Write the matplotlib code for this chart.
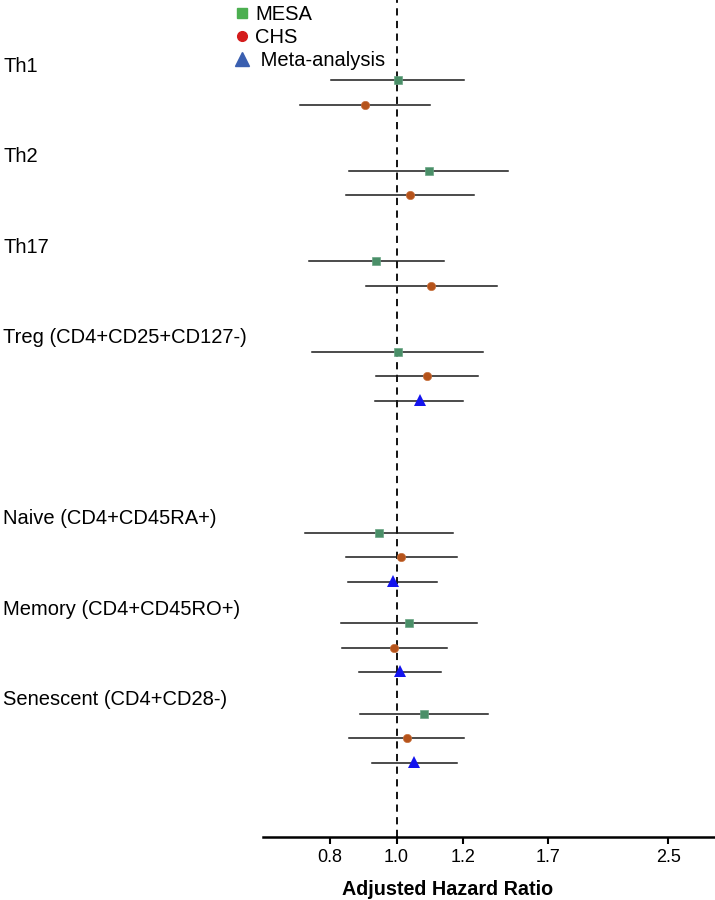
import numpy as np
import matplotlib
matplotlib.use("Agg")
import matplotlib.pyplot as plt
from matplotlib.lines import Line2D
from matplotlib import transforms

plt.rcParams['font.family'] = ['Liberation Sans', 'DejaVu Sans']

# ---------------- data ----------------
groups = ["Th1", "Th2", "Th17", "Treg (CD4+CD25+CD127-)",
          "Naive (CD4+CD45RA+)", "Memory (CD4+CD45RO+)", "Senescent (CD4+CD28-)"]
group_slots = [0, 1, 2, 3, 5, 6, 7]

mesa_hr = [1.005, 1.097, 0.939, 1.004, 0.947, 1.038, 1.081]
mesa_lo = [0.803, 0.858, 0.738, 0.748, 0.726, 0.835, 0.890]
mesa_hi = [1.207, 1.465, 1.143, 1.318, 1.169, 1.282, 1.343]

chs_hr = [0.905, 1.040, 1.103, 1.092, 1.013, 0.993, 1.030]
chs_lo = [0.710, 0.850, 0.908, 0.939, 0.849, 0.838, 0.858]
chs_hi = [1.100, 1.263, 1.398, 1.288, 1.180, 1.150, 1.203]

# meta-analysis only for the last four groups (None = not shown)
meta_hr = [None, None, None, 1.069, 0.990, 1.010, 1.052]
meta_lo = [None, None, None, 0.937, 0.856, 0.888, 0.926]
meta_hi = [None, None, None, 1.200, 1.122, 1.133, 1.181]

tick_vals = [0.8, 1.0, 1.2, 1.7, 2.5]
tick_labels = ["0.8", "1.0", "1.2", "1.7", "2.5"]
tick_pos = [-1.0, 0.0, 1.0, 2.273, 4.072]

legend_labels = ["MESA", "CHS", " Meta-analysis"]

# ---------------- custom axis scale ----------------
V = np.array(tick_vals)
P = np.array(tick_pos)
s_lo = (P[1] - P[0]) / (V[1] - V[0])
s_hi = (P[-1] - P[-2]) / (V[-1] - V[-2])

def fwd(x):
    x = np.asarray(x, dtype=float)
    y = np.interp(x, V, P)
    y = np.where(x < V[0], P[0] + (x - V[0]) * s_lo, y)
    y = np.where(x > V[-1], P[-1] + (x - V[-1]) * s_hi, y)
    return y

def inv(y):
    y = np.asarray(y, dtype=float)
    x = np.interp(y, P, V)
    x = np.where(y < P[0], V[0] + (y - P[0]) / s_lo, x)
    x = np.where(y > P[-1], V[-1] + (y - P[-1]) / s_hi, x)
    return x

W, H = 715, 900
fig = plt.figure(figsize=(W / 100, H / 100), dpi=100)
ax = fig.add_axes([263 / W, 63 / H, 1 - 263 / W, 1 - 63 / H])
ax.set_xscale('function', functions=(fwd, inv))

ROW = 1.0
GROUP = 3.664
top_px, first_px, row_px = 0.0, 80.0, 24.7
bottom_px = 837.0
ax.set_ylim((bottom_px - first_px) / row_px, (top_px - first_px) / row_px)
ax.set_xlim(inv(-2.0), inv(4.77))

mesa_c = '#4a8f68'
chs_c = '#b5531b'
meta_c = '#1414ee'
line_c = '#1a1a1a'

trans = transforms.blended_transform_factory(fig.transFigure, ax.transData)
for i, slot in enumerate(group_slots):
    y0 = slot * GROUP
    # MESA
    ax.plot([mesa_lo[i], mesa_hi[i]], [y0, y0], color=line_c, lw=1.1, zorder=2)
    ax.plot(mesa_hr[i], y0, marker='s', ms=6.0, color=mesa_c,
            markeredgecolor='#6aa585', markeredgewidth=0.5, zorder=3)
    # CHS
    y1 = y0 + ROW
    ax.plot([chs_lo[i], chs_hi[i]], [y1, y1], color=line_c, lw=1.1, zorder=2)
    ax.plot(chs_hr[i], y1, marker='o', ms=6.0, color=chs_c,
            markeredgecolor='#c9733f', markeredgewidth=0.5, zorder=3)
    # Meta
    if meta_hr[i] is not None:
        y2 = y0 + 2 * ROW
        ax.plot([meta_lo[i], meta_hi[i]], [y2, y2], color=line_c, lw=1.1, zorder=2)
        ax.plot(meta_hr[i], y2 - 0.05, marker='^', ms=9, color=meta_c,
                markeredgewidth=0, zorder=3)
    # group label
    ax.text(3 / W, y0 - 0.55, groups[i], transform=trans, ha='left', va='center',
            fontsize=14.5, color='black', clip_on=False)

ax.axvline(1.0, color='black', lw=1.3, dashes=(4, 3), zorder=1)

for sp in ['top', 'right', 'left']:
    ax.spines[sp].set_visible(False)
ax.spines['bottom'].set_linewidth(1.8)
ax.set_yticks([])
ax.set_xticks(tick_vals)
ax.set_xticklabels(tick_labels, fontsize=13)
ax.xaxis.set_minor_locator(matplotlib.ticker.NullLocator())
ax.tick_params(axis='x', direction='out', length=5, width=1.5, pad=4)
ax.set_xlabel("Adjusted Hazard Ratio", fontsize=14.2, fontweight='bold')
ax.xaxis.set_label_coords((448 - 263) / (W - 263), -(886 - 837) / (837 - 63))
ax.xaxis.label.set_va('center')

handles = [
    Line2D([], [], marker='s', ls='none', color='#4caf50', ms=7),
    Line2D([], [], marker='o', ls='none', color='#d41c1c', ms=7),
    Line2D([], [], marker='^', ls='none', color='#3a5fb0', ms=10),
]
fig.legend(handles, legend_labels, loc='upper left',
           bbox_to_anchor=(232 / W, 1 - 5 / H), frameon=False, fontsize=14.5,
           handlelength=1.0, handletextpad=0.15, labelspacing=0.2,
           borderpad=0, borderaxespad=0)

fig.savefig("out.png", dpi=100)
